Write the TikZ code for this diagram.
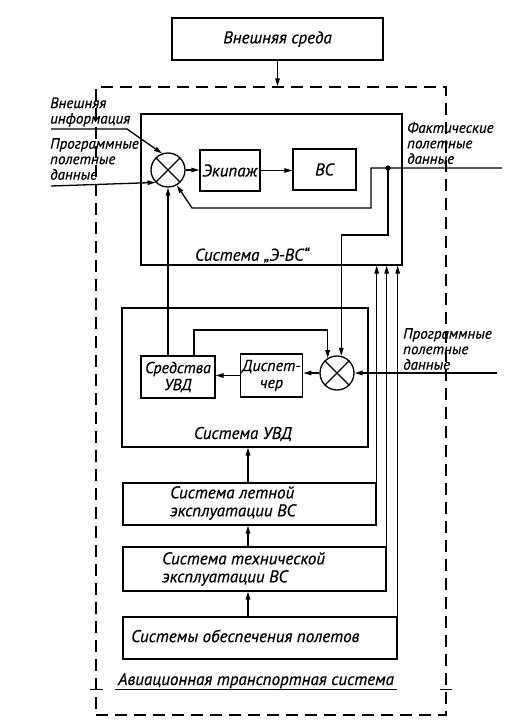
\documentclass[tikz,border=0pt]{standalone}
\usepackage{fontspec}
\setmainfont{PT Sans}[ItalicFeatures={FakeBold=0.5}]
\usetikzlibrary{arrows.meta,positioning,calc}
\tikzset{
  font=\itshape\fontsize{17}{18}\selectfont,
  >={Triangle[length=8pt,width=4.5pt]},
  box/.style={draw, line width=1.3pt, inner sep=2pt, align=center},
  smallbox/.style={box, font=\itshape\fontsize{16}{17}\selectfont},
  sum/.style={circle, draw, line width=1.3pt, minimum size=34pt, inner sep=0pt},
  frame/.style={draw, line width=1.3pt, dash pattern=on 12pt off 7pt},
  flow/.style={->, line width=1.3pt},
  wire/.style={line width=1.3pt},
  tag/.style={align=left, inner sep=0pt, anchor=west, font=\itshape\fontsize{15}{15.5}\selectfont},
  txt/.style={inner sep=0pt, align=left}
}
\begin{document}
\begin{tikzpicture}[x=1pt,y=-1pt]
  \useasboundingbox (0,0) rectangle (532,728);

  % environment and the whole system
  \node[box, minimum width=211pt, minimum height=42pt] (env) at (277.5,39) {Внешняя среда};
  \node[frame, minimum width=350pt, minimum height=628pt] (ats) at (271,401) {};
  \draw[flow] (env.south) -- (env.south |- ats.north);

  % crew -- aircraft loop
  \node[box, minimum width=261pt, minimum height=151pt] (eves) at (271.5,189.5) {};
  \node[txt] (evesL) at (252,255) {Система „Э-ВС“};
  \node[sum] (sumA) at (168,170) {};
  \draw[wire] (sumA.45) -- (sumA.225) (sumA.135) -- (sumA.-45);
  \node[box, minimum width=60pt, minimum height=41pt] (crew) at (230,170.5) {Экипаж};
  \node[box, minimum width=63pt, minimum height=41pt] (ac) at (324.5,169.5) {ВС};
  \draw[flow] (sumA.east) -- (sumA.east -| crew.west);
  \draw[flow] (crew.east) -- (crew.east -| ac.west);

  % inputs on the left
  \node[tag] (extL) at (50,112) {Внешняя\\информация};
  \node[tag] (progL) at (50,159) {Программные\\полетные\\данные};
  \coordinate (extIn) at (51,129);
  \coordinate (extBend) at (127,129);
  \coordinate (progIn) at (51,186);
  \draw[flow] (extIn) -- (extBend) -- (sumA.110);
  \draw[flow] (progIn) -- (sumA.225);

  % actual flight data and feedback
  \node[tag] (factL) at (407,143) {Фактические\\полетные\\данные};
  \coordinate (factOut) at (502,168);
  \coordinate (fbA) at (371,168);
  \coordinate (fbB) at (371,208);
  \coordinate (fbC) at (192,208);
  \draw[flow] (factOut) -- (fbA) -- (fbB) -- (fbC) -- (sumA.-60);
  \coordinate (tap) at (388,168);
  \coordinate (tapB) at (388,235);
  \fill (tap) circle (2.6pt);

  % ATC system
  \node[box, minimum width=246pt, minimum height=139pt] (uvd) at (245,377.5) {};
  \node[txt] (uvdL) at (243,434) {Система УВД};
  \node[sum] (sumB) at (337,373) {};
  \draw[wire] (sumB.45) -- (sumB.225) (sumB.135) -- (sumB.-45);
  \node[smallbox, minimum width=74pt, minimum height=42pt] (means) at (178,377) {Средства\\УВД};
  \node[smallbox, minimum width=61pt, minimum height=43pt] (disp) at (271.5,375.5) {Диспет-\\чер};
  \draw[flow] (sumB.west) -- (sumB.west -| disp.east);
  \draw[flow] (disp.west) -- (disp.west -| means.east);
  \coordinate (mTop) at (194,330);
  \draw[flow] (mTop |- means.north) -- (mTop) -| (sumB.122);
  \draw[flow] (tap) -- (tapB) -| (sumB.76);
  \draw[flow] (sumA.south |- means.north) -- (sumA.south);

  \node[tag] (progR) at (403,349) {Программные\\полетные\\данные};
  \coordinate (progRIn) at (497,373);
  \draw[flow] (progRIn) -- (sumB.east);

  % supporting systems
  \node[box, minimum width=253pt, minimum height=42pt] (flt) at (249.5,504) {};
  \node[txt, anchor=west] (fltL) at (170,503) {Система летной\\эксплуатации ВС};
  \node[box, minimum width=263pt, minimum height=44pt] (tech) at (254.5,569) {};
  \node[txt, anchor=west] (techL) at (162,569) {Система технической\\эксплуатации ВС};
  \node[box, minimum width=274pt, minimum height=42pt] (supp) at (260,638) {};
  \node[txt, anchor=west] (suppL) at (131,636) {Системы обеспечения полетов};

  \coordinate (spine) at (248,0);
  \draw[flow] (spine |- supp.north) -- (spine |- tech.south);
  \draw[flow] (spine |- tech.north) -- (spine |- flt.south);
  \draw[flow] (spine |- flt.north) -- (spine |- uvd.south);
  \draw[flow] (flt.north east) -- (flt.north east |- eves.south);
  \draw[flow] (tech.north east) -- (tech.north east |- eves.south);
  \draw[flow] (supp.north east) -- (supp.north east |- eves.south);

  % caption of the frame
  \node[txt, anchor=base] (atsL) at (256,685) {Авиационная транспортная система};
  \draw[line width=0.9pt] (115,689) -- (397,689);
  \draw[line width=0.9pt] (90,689) -- (103,689) (440,689) -- (452,689);
\end{tikzpicture}
\end{document}
